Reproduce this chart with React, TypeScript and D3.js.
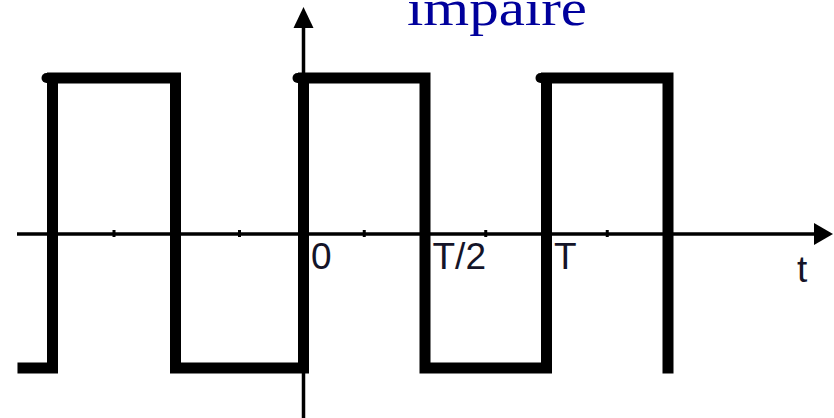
import React from "react";
import * as d3 from "d3";

// Signal: times in units of T/2, levels -1 / +1
const edgeTimes = [-2, -1, 0, 1, 2, 3];
const startTime = -2.24;
const startLevel = -1;
const tickTimes = [-1.5, -0.5, 0.5, 1.5, 2.5];
const tickLabels = [
  { t: 0, text: "0" },
  { t: 1, text: "T/2" },
  { t: 2, text: "T" },
];
const axisLabel = "t";
const title = "impaire";

const W = 834;
const H = 418;

export default function App() {
  const x = d3.scaleLinear().domain([-2, -1, 0, 3]).range([52.5, 175.5, 303.5, 668]);
  const y = d3.scaleLinear().domain([-1, 0, 1]).range([368, 234, 78]);

  // build step path
  const pts: [number, number][] = [[startTime, startLevel]];
  let level = startLevel;
  edgeTimes.forEach((t) => {
    pts.push([t, level]);
    level = -level;
    pts.push([t, level]);
  });
  const line = d3
    .line<[number, number]>()
    .x((d) => x(d[0]))
    .y((d) => y(d[1]));
  const pathD = line(pts) || "";

  // rising edges get small round overhang at top-left
  const rising: number[] = [];
  let lv = startLevel;
  edgeTimes.forEach((t) => {
    if (lv < 0) rising.push(t);
    lv = -lv;
  });

  const axisY = y(0);
  const axisX = x(0);
  const xLeft = 17;
  const xTip = 833;
  const yTip = 7;

  return (
    <svg
      width={W}
      height={H}
      style={{ position: "absolute", left: 0, top: 0, display: "block", background: "#fff" }}
    >
      {/* title */}
      <text
        x={407}
        y={25}
        fontFamily="'Liberation Serif', 'DejaVu Serif', serif"
        fontSize={50}
        fill="#00009c"
        textLength={180}
        lengthAdjust="spacingAndGlyphs"
      >
        {title}
      </text>

      {/* horizontal axis */}
      <line x1={xLeft} y1={axisY} x2={xTip - 16} y2={axisY} stroke="#000" strokeWidth={3.5} />
      <polygon
        points={`${xTip},${axisY} ${xTip - 19},${axisY - 11} ${xTip - 19},${axisY + 11}`}
        fill="#000"
      />
      {tickTimes.map((t, i) => (
        <rect key={i} x={x(t) - 1.5} y={axisY - 4} width={3} height={7} fill="#000" />
      ))}

      {/* vertical axis */}
      <line x1={axisX} y1={H} x2={axisX} y2={yTip + 16} stroke="#000" strokeWidth={3.5} />
      <polygon
        points={`${axisX},${yTip} ${axisX - 10},${yTip + 21} ${axisX + 10},${yTip + 21}`}
        fill="#000"
      />

      {/* square wave */}
      <path
        d={pathD}
        fill="none"
        stroke="#000"
        strokeWidth={11}
        strokeLinejoin="miter"
        strokeLinecap="square"
      />
      {rising.map((t, i) => (
        <line
          key={i}
          x1={x(t) - 6}
          y1={y(1)}
          x2={x(t)}
          y2={y(1)}
          stroke="#000"
          strokeWidth={10}
          strokeLinecap="round"
        />
      ))}

      {/* labels */}
      {tickLabels.map((d, i) => (
        <text
          key={i}
          x={x(d.t) + 7.5}
          y={269}
          fontFamily="'Liberation Sans', Arial, sans-serif"
          fontSize={37}
          fill="#141428"
        >
          {d.text}
        </text>
      ))}
      <text
        x={797}
        y={282}
        fontFamily="'Liberation Sans', Arial, sans-serif"
        fontSize={37}
        fill="#141428"
      >
        {axisLabel}
      </text>
    </svg>
  );
}
